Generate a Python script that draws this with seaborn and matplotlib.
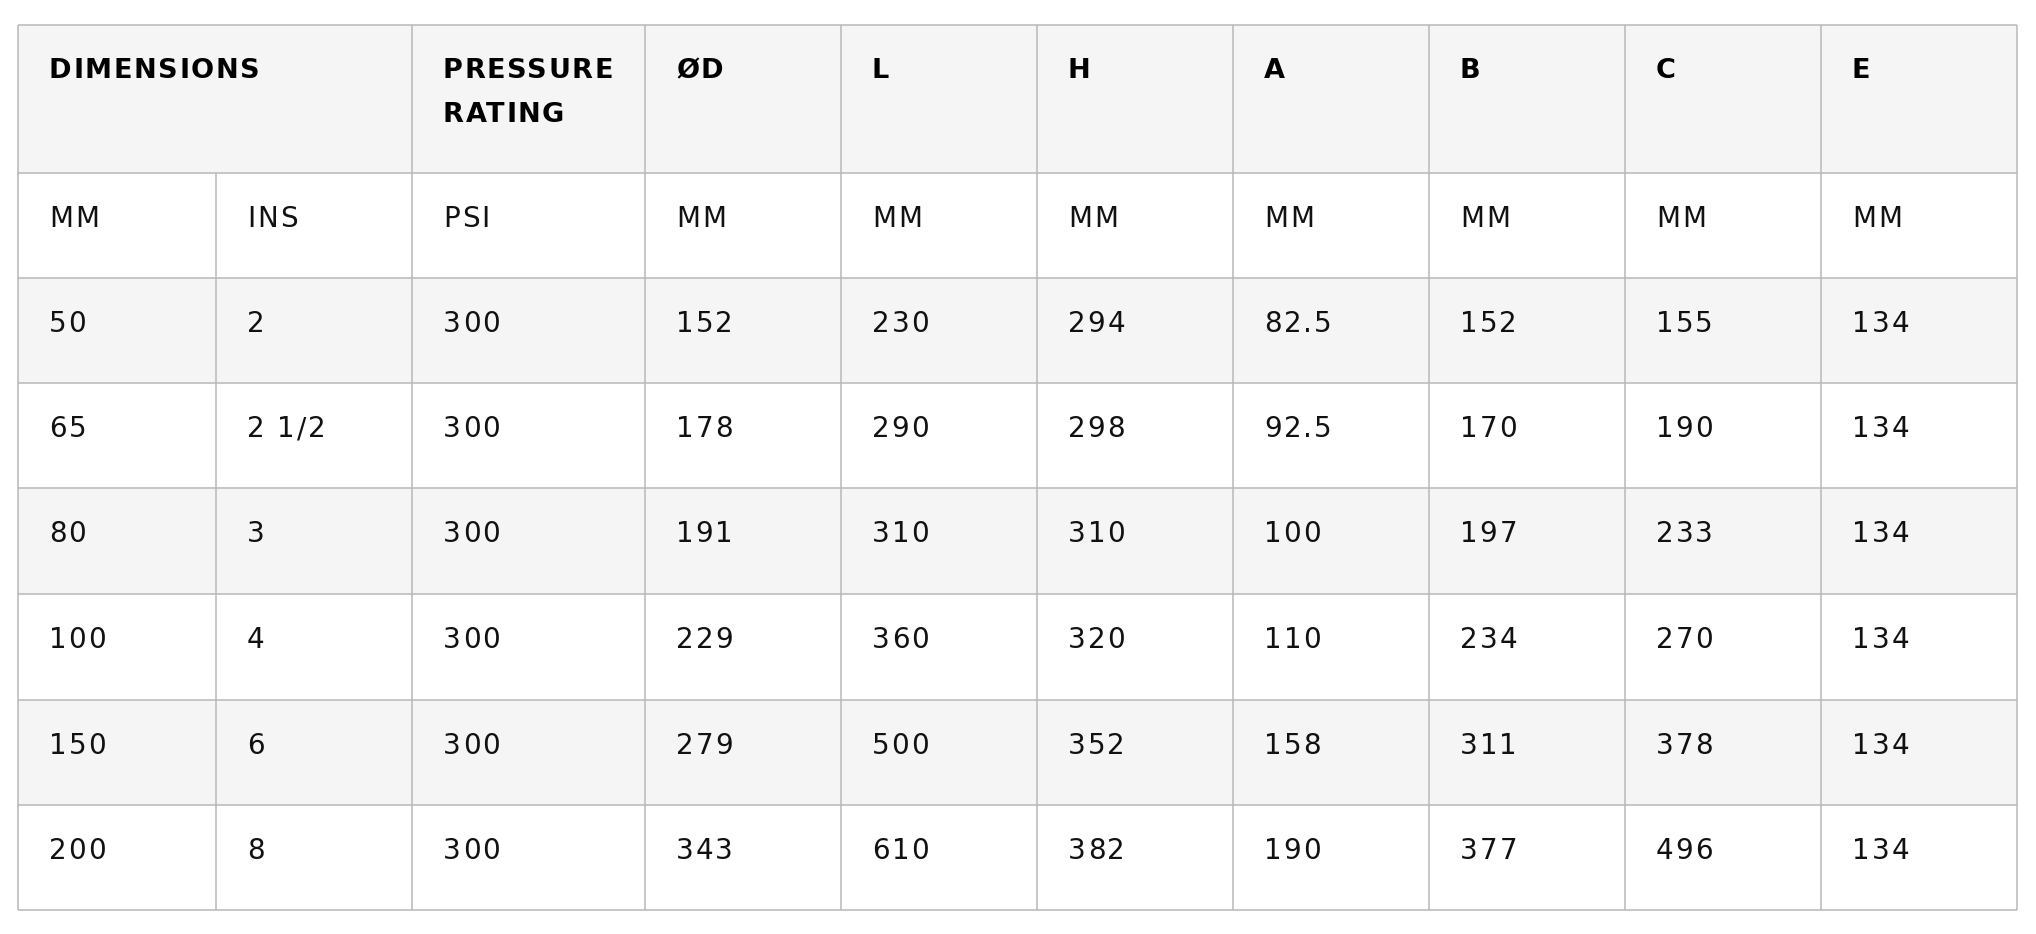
import numpy as np
import pandas as pd
import seaborn as sns
import matplotlib.pyplot as plt
from matplotlib.colors import ListedColormap
from matplotlib.font_manager import FontProperties

# table content
header_labels = ['DIMENSIONS', 'PRESSURE\nRATING', 'ØD', 'L', 'H', 'A', 'B', 'C', 'E']
unit_labels = ['MM', 'INS', 'PSI', 'MM', 'MM', 'MM', 'MM', 'MM', 'MM', 'MM']

size_mm = ['50', '65', '80', '100', '150', '200']
size_ins = ['2', '2 1/2', '3', '4', '6', '8']
psi = ['300', '300', '300', '300', '300', '300']
od = ['152', '178', '191', '229', '279', '343']
len_l = ['230', '290', '310', '360', '500', '610']
height_h = ['294', '298', '310', '320', '352', '382']
dim_a = ['82.5', '92.5', '100', '110', '158', '190']
dim_b = ['152', '170', '197', '234', '311', '377']
dim_c = ['155', '190', '233', '270', '378', '496']
dim_e = ['134', '134', '134', '134', '134', '134']

df = pd.DataFrame({'mm': size_mm, 'ins': size_ins, 'psi': psi, 'od': od, 'l': len_l,
                   'h': height_h, 'a': dim_a, 'b': dim_b, 'c': dim_c, 'e': dim_e})

# layout (pixels)
col_edges = np.array([18, 216, 412, 645, 841, 1037, 1233, 1429, 1625, 1821, 2017])
row_edges = np.array([25, 173, 278, 383, 488, 594, 700, 805, 910])
pad_x = 31
text_dy = 46
line_gap = 44

sns.set_theme(style='white')
plt.rcParams['font.family'] = ['DejaVu Sans']

fig = plt.figure(figsize=(20.36, 9.34), dpi=100)
ax = fig.add_axes([0, 0, 1, 1])
renderer = fig.canvas.get_renderer()

# row shading: header grey, units white, then alternating
n_rows = len(row_edges) - 1
shade = np.array([[1 if (r == 0 or (r >= 2 and r % 2 == 0)) else 0] * (len(col_edges) - 1)
                  for r in range(n_rows)])
ax.pcolormesh(col_edges, row_edges, shade, cmap=ListedColormap(['#ffffff', '#f5f5f5']),
              shading='flat')

line_color = '#b8b8b8'
ax.hlines(row_edges, col_edges[0], col_edges[-1], color=line_color, lw=1.1)
for i, x in enumerate(col_edges):
    top = row_edges[1] if i == 1 else row_edges[0]
    ax.vlines(x, top, row_edges[-1], color=line_color, lw=1.1)

txt_color = '#111111'
fs = 20
bold_fp = FontProperties(family='DejaVu Sans', weight='bold', size=fs - 0.5)
reg_fp = FontProperties(family='DejaVu Sans', weight='normal', size=fs)


def text_w(s, fp):
    return renderer.get_text_width_height_descent(s, fp, ismath=False)[0]


def spaced_text(x, y, s, fp, track, color):
    # draw a string char by char with a little extra letter spacing
    for i, ch in enumerate(s):
        if ch == ' ':
            continue
        off = text_w(s[:i + 1], fp) - text_w(ch, fp)
        ax.text(x + off + i * track, y, ch, fontproperties=fp, color=color,
                ha='left', va='center')


# header row (DIMENSIONS spans first two columns)
header_cols = [0, 2, 3, 4, 5, 6, 7, 8, 9]
for label, c in zip(header_labels, header_cols):
    for k, line in enumerate(label.split('\n')):
        spaced_text(col_edges[c] + pad_x, row_edges[0] + text_dy + k * line_gap, line,
                    bold_fp, 1.6, '#000000')

# units row
for c, label in enumerate(unit_labels):
    spaced_text(col_edges[c] + pad_x, row_edges[1] + text_dy, label, reg_fp, 2.0, txt_color)

# body rows
for r, (_, row) in enumerate(df.iterrows()):
    for c, val in enumerate(row):
        spaced_text(col_edges[c] + pad_x, row_edges[r + 2] + text_dy, val, reg_fp, 2.0, txt_color)

ax.set_xlim(0, 2036)
ax.set_ylim(934, 0)
ax.axis('off')

fig.savefig('out.png', dpi=100, facecolor='white')
